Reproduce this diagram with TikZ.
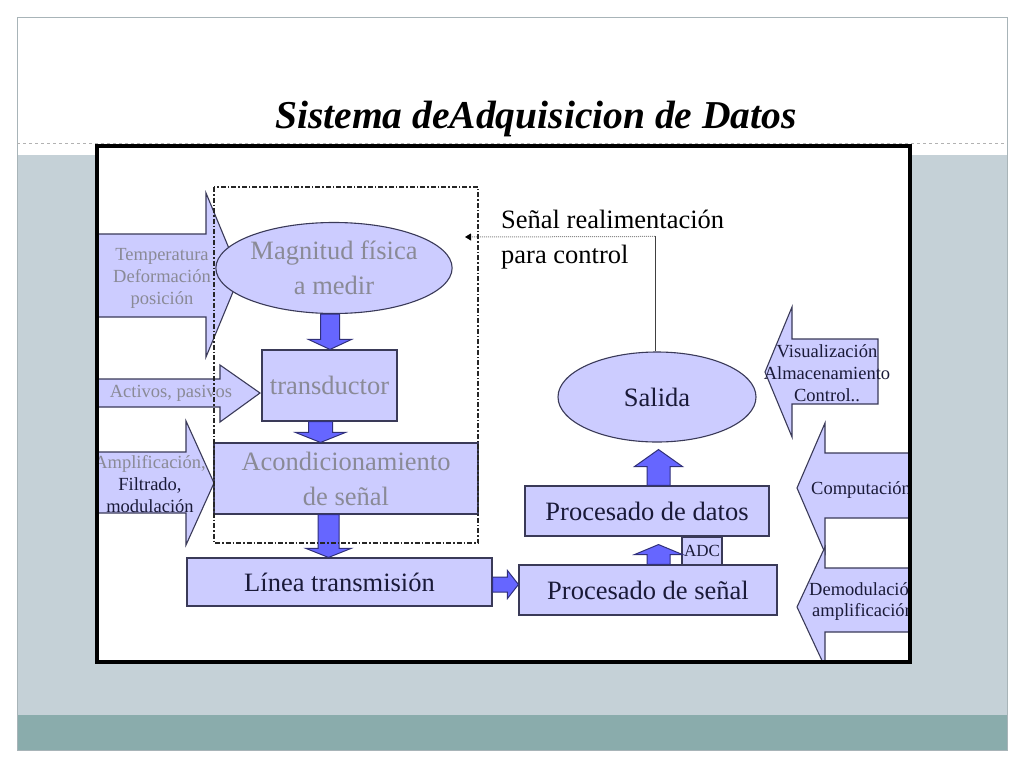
\documentclass[tikz,border=0pt]{standalone}
\usepackage{fontspec}
\setmainfont{Liberation Serif}
\usetikzlibrary{calc,arrows.meta,shapes.geometric}
\definecolor{bandc}{HTML}{C5D1D7}
\definecolor{tealc}{HTML}{8AACAC}
\definecolor{framec}{HTML}{A8B4B8}
\definecolor{lav}{HTML}{CCCCFF}
\definecolor{edgec}{HTML}{3A3A58}
\definecolor{fatblue}{HTML}{6666FF}
\definecolor{fatedge}{HTML}{30307A}
\definecolor{txtgray}{HTML}{8A8A96}
\definecolor{txtdark}{HTML}{1A1A38}
\newcommand{\fatdown}[5]{%
  \draw[fat] let \p1=(#1), \p2=(#2) in
    (\x1-#3pt,\y1) -- (\x1+#3pt,\y1) -- (\x1+#3pt,\y2+#5pt) -- (\x1+#4pt,\y2+#5pt)
    -- (\x1,\y2) -- (\x1-#4pt,\y2+#5pt) -- (\x1-#3pt,\y2+#5pt) -- cycle;}
\newcommand{\fatup}[5]{%
  \draw[fat] let \p1=(#1), \p2=(#2) in
    (\x1-#3pt,\y1) -- (\x1+#3pt,\y1) -- (\x1+#3pt,\y2-#5pt) -- (\x1+#4pt,\y2-#5pt)
    -- (\x1,\y2) -- (\x1-#4pt,\y2-#5pt) -- (\x1-#3pt,\y2-#5pt) -- cycle;}
\newcommand{\fatright}[5]{%
  \draw[fat] let \p1=(#1), \p2=(#2) in
    (\x1,\y1+#3pt) -- (\x1,\y1-#3pt) -- (\x2-#5pt,\y1-#3pt) -- (\x2-#5pt,\y1-#4pt)
    -- (\x2,\y1) -- (\x2-#5pt,\y1+#4pt) -- (\x2-#5pt,\y1+#3pt) -- cycle;}
\tikzset{
  blk/.style={draw=edgec, fill=lav, line width=1.1pt},
  box/.style={blk, rectangle, inner sep=0pt, align=center},
  bigtxt/.style={font=\fontsize{26.5}{35}\selectfont},
  smalltxt/.style={font=\fontsize{18.5}{22}\selectfont, inner sep=0pt, align=center},
  fat/.style={draw=fatedge, fill=fatblue, line width=1pt, line join=miter},
  graytxt/.style={text=txtgray},
  darktxt/.style={text=txtdark},
  dashdot/.style={draw=black!85, line width=1.1pt, dash pattern=on 5pt off 2pt on 1.5pt off 2pt},
}
\begin{document}
\begin{tikzpicture}[x=1pt,y=-1pt]
\useasboundingbox (0,0) rectangle (1024,768);
\fill[white] (0,0) rectangle (1024,768);
\fill[bandc] (17,155) rectangle (1007,715);
\fill[tealc] (17,715) rectangle (1007,750);
\draw[framec, line width=0.8pt] (17,17) rectangle (1007,750);
\draw[black!30, dashed, line width=0.6pt] (17,143) -- (1007,143);
\node[font=\fontsize{39.5}{42}\selectfont\bfseries\itshape, inner sep=0pt] (title) at (536,119) {Sistema deAdquisicion de Datos};
\fill[white] (97,146) rectangle (910,662);
\begin{scope}
\clip (97,146) rectangle (910,662);
% left block arrows
\draw[blk] (95,234) -- (206,234) -- (206,193) -- (240,275) -- (206,357) -- (206,317) -- (95,317) -- cycle;
\draw[blk] (95,379) -- (220,379) -- (220,365) -- (260,393) -- (220,422) -- (220,407) -- (95,407) -- cycle;
\draw[blk] (95,452) -- (186,452) -- (186,421) -- (214,483) -- (186,545) -- (186,513) -- (95,513) -- cycle;
\node[smalltxt, graytxt] (tin) at (162,278) {Temperatura\\Deformación\\posición};
\node[smalltxt, graytxt] (act) at (171,393) {Activos, pasivos};
\node[smalltxt, darktxt] (amp) at (150,484) {\textcolor{txtgray}{Amplificación,}\\Filtrado,\\modulación};
% right block arrows
\draw[blk] (878,339) -- (792,339) -- (792,307) -- (765,372) -- (792,437) -- (792,404) -- (878,404) -- cycle;
\draw[blk] (920,453) -- (825,453) -- (825,423) -- (797,488) -- (825,553) -- (825,518) -- (920,518) -- cycle;
\draw[blk] (920,568) -- (825,568) -- (825,547) -- (797,607) -- (825,667) -- (825,632) -- (920,632) -- cycle;
\node[smalltxt, darktxt] (vis) at (827,373) {Visualización\\Almacenamiento\\Control..};
\node[smalltxt, darktxt, anchor=west] (comp) at (811,490) {Computación};
\node[smalltxt, darktxt, anchor=west, align=left, font=\fontsize{18.5}{21}\selectfont] (demod) at (809,602) {Demodulación\\\hspace*{3pt}amplificación};
% main blocks
\node[blk, ellipse, inner sep=0pt, minimum width=195, minimum height=91, bigtxt, graytxt, align=center] (mag) at (334,268) {Magnitud física\\a medir};
\node[box, bigtxt, graytxt, minimum width=135, minimum height=71] (trans) at (329.5,385.5) {transductor};
\node[box, bigtxt, graytxt, minimum width=264, minimum height=71] (acond) at (346,478.5) {Acondicionamiento\\de señal};
\node[box, bigtxt, darktxt, minimum width=305, minimum height=48] (linea) at (339.5,582) {Línea transmisión};
\node[box, bigtxt, darktxt, minimum width=258, minimum height=50] (ps) at (648,590) {Procesado de señal};
\node[box, font=\fontsize{17}{20}\selectfont, darktxt, minimum width=40, minimum height=28] (adc) at (702,551) {ADC};
\node[box, bigtxt, darktxt, minimum width=244, minimum height=50] (pd) at (647,511) {Procesado de datos};
\node[blk, ellipse, inner sep=0pt, minimum width=198, minimum height=90, bigtxt, darktxt] (salida) at (657,397) {Salida};
% fat arrows
\fatdown{$(mag.south)+(-4,0)$}{trans.north}{9.5}{21.5}{10}
\fatdown{$(trans.south)+(-9,0)$}{acond.north}{12}{25}{10}
\fatdown{$(acond.south)+(-17.5,0)$}{linea.north}{10.5}{22.5}{9}
\fatright{$(linea.east)+(0,2.5)$}{ps.west}{7.5}{14}{11}
\fatup{$(ps.north)+(10.5,0)$}{$(pd.south)+(0,8)$}{11.5}{24}{10}
\fatup{$(pd.north)+(11.5,0)$}{$(salida.south)+(0,7)$}{11.5}{24}{17}
% feedback
\coordinate (fbc) at ($(salida.north)+(-2,-115)$);
\coordinate (fbend) at (465,237);
\draw[black!75, line width=0.9pt] ($(salida.north)+(-2,0)$) -- (fbc);
\draw[black!45, line width=1pt, dash pattern=on 1pt off 1pt, -{Triangle[length=6pt,width=7pt,color=black]}] (fbc) -- (fbend);
\node[anchor=west, bigtxt, align=left, inner sep=0pt, text=black] (fblabel) at (501,240) {Señal realimentación\\para control};
% dash-dot enclosure
\draw[dashdot] (214,187) rectangle (478,543);
\end{scope}
\draw[line width=4.5pt] (97,146) rectangle (910,662);
\end{tikzpicture}
\end{document}
